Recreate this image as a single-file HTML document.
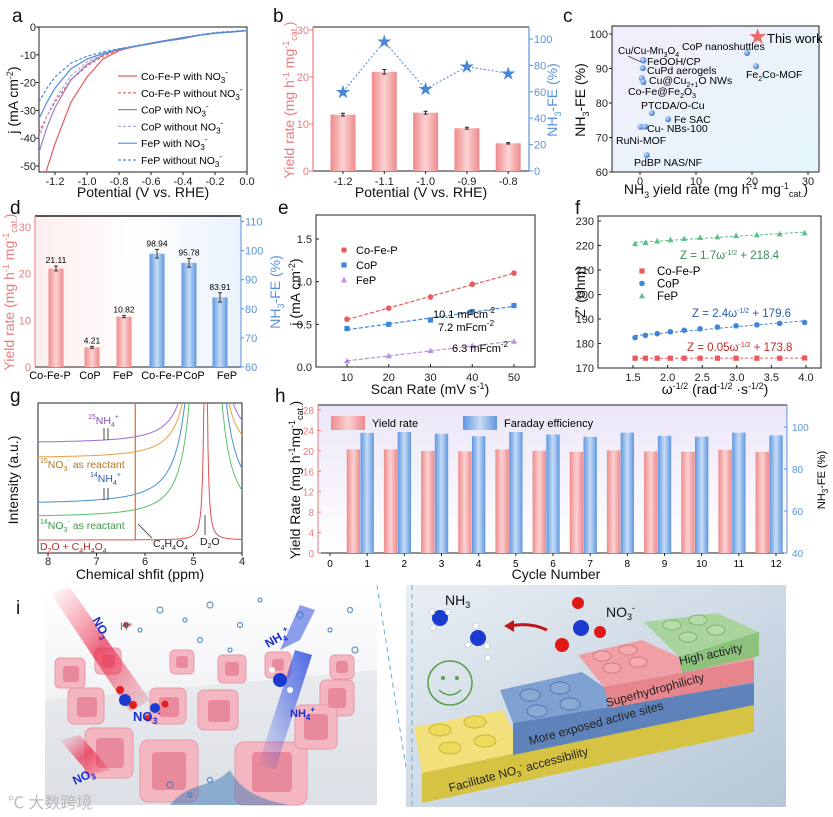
<!DOCTYPE html>
<html><head><meta charset="utf-8">
<style>
html,body{margin:0;padding:0;background:#fff;}
svg{display:block;font-family:"Liberation Sans","Noto Sans CJK SC",sans-serif;}
.tk{font-size:11px;fill:#222;}
.tt{font-size:14px;fill:#111;}
.pl{font-size:19px;fill:#111;}
</style></head>
<body>
<svg id="fig" width="833" height="817" viewBox="0 0 833 817" xmlns="http://www.w3.org/2000/svg">
<defs>
 <linearGradient id="gRed" x1="0" x2="1" y1="0" y2="0"><stop offset="0" stop-color="#ee8a8c"/><stop offset="0.5" stop-color="#fbd3d3"/><stop offset="1" stop-color="#ee8a8c"/></linearGradient>
 <linearGradient id="gBlue" x1="0" x2="1" y1="0" y2="0"><stop offset="0" stop-color="#5e97e0"/><stop offset="0.5" stop-color="#c7dcf6"/><stop offset="1" stop-color="#5e97e0"/></linearGradient>
 <linearGradient id="gC" x1="0" x2="1" y1="0" y2="1"><stop offset="0" stop-color="#f2edfa"/><stop offset="1" stop-color="#e4f7fb"/></linearGradient>
 <linearGradient id="gD" x1="0" x2="1" y1="0" y2="0"><stop offset="0" stop-color="#fdeeee"/><stop offset="0.5" stop-color="#ffffff"/><stop offset="1" stop-color="#eaf2fd"/></linearGradient>
 <linearGradient id="gH" x1="0" x2="0" y1="0" y2="1"><stop offset="0" stop-color="#ece6f8"/><stop offset="1" stop-color="#ffffff"/></linearGradient>
 <radialGradient id="gBall" cx="0.35" cy="0.35" r="0.7"><stop offset="0" stop-color="#cfe2ff"/><stop offset="1" stop-color="#2f6fd0"/></radialGradient>
 <linearGradient id="gLeft" x1="0" x2="0" y1="0" y2="1"><stop offset="0" stop-color="#ffffff"/><stop offset="0.45" stop-color="#f3f4f6"/><stop offset="1" stop-color="#d7dbe1"/></linearGradient>
 <linearGradient id="gRight" x1="0" x2="1" y1="0" y2="1"><stop offset="0" stop-color="#e9eef3"/><stop offset="0.6" stop-color="#c9d6e3"/><stop offset="1" stop-color="#b7c7d8"/></linearGradient>
 <linearGradient id="gBeamR" x1="0" x2="1" y1="0" y2="1"><stop offset="0" stop-color="#ff5070" stop-opacity="0"/><stop offset="0.5" stop-color="#e8294a" stop-opacity="0.7"/><stop offset="1" stop-color="#e8294a" stop-opacity="0.1"/></linearGradient>
 <linearGradient id="gBeamB" x1="1" x2="0" y1="0" y2="1"><stop offset="0" stop-color="#2040e0" stop-opacity="0.8"/><stop offset="1" stop-color="#2040e0" stop-opacity="0"/></linearGradient>
 <clipPath id="clipA"><rect x="39" y="27" width="208" height="145"/></clipPath>
 <clipPath id="clipG"><rect x="38" y="403" width="204" height="150"/></clipPath>
</defs>

<text class="pl" x="12" y="22">a</text>
<text class="pl" x="273" y="22">b</text>
<text class="pl" x="563" y="22">c</text>
<text class="pl" x="10" y="214">d</text>
<text class="pl" x="278" y="214">e</text>
<text class="pl" x="575" y="214">f</text>
<text class="pl" x="10" y="402">g</text>
<text class="pl" x="275" y="402">h</text>
<text class="pl" x="16" y="614">i</text>

<text class="tt" x="143" y="197" text-anchor="middle">Potential (V vs. RHE)</text>
<text class="tt" transform="translate(18,100) rotate(-90)" text-anchor="middle">j (mA cm<tspan dy="-5" font-size="9">-2</tspan><tspan dy="5">)</tspan></text>
<text class="tt" x="421" y="197" text-anchor="middle">Potential (V vs. RHE)</text>
<text class="tt" transform="translate(294,100) rotate(-90)" text-anchor="middle" style="fill:#ea7b7d">Yield rate (mg h<tspan dy="-5" font-size="9">-1</tspan><tspan dy="5"> mg</tspan><tspan dy="-5" font-size="9">-1</tspan><tspan dy="8" font-size="9">cat.</tspan><tspan dy="-3">)</tspan></text>
<text class="tt" transform="translate(557,100) rotate(-90)" text-anchor="middle" style="fill:#5b93d8">NH<tspan dy="4" font-size="9">3</tspan><tspan dy="-4">-FE (%)</tspan></text>
<text class="tt" x="716" y="194" text-anchor="middle">NH<tspan dy="4" font-size="9">3</tspan><tspan dy="-4"> yield rate (mg h</tspan><tspan dy="-5" font-size="9">-1</tspan><tspan dy="5"> mg</tspan><tspan dy="-5" font-size="9">-1</tspan><tspan dy="8" font-size="9">cat.</tspan><tspan dy="-3">)</tspan></text>
<text class="tt" transform="translate(585,100) rotate(-90)" text-anchor="middle">NH<tspan dy="4" font-size="9">3</tspan><tspan dy="-4">-FE (%)</tspan></text>
<text class="tt" transform="translate(14,292) rotate(-90)" text-anchor="middle" style="fill:#ea7b7d">Yield rate (mg h<tspan dy="-5" font-size="9">-1</tspan><tspan dy="5"> mg</tspan><tspan dy="-5" font-size="9">-1</tspan><tspan dy="8" font-size="9">cat.</tspan><tspan dy="-3">)</tspan></text>
<text class="tt" transform="translate(280,292) rotate(-90)" text-anchor="middle" style="fill:#5b93d8">NH<tspan dy="4" font-size="9">3</tspan><tspan dy="-4">-FE (%)</tspan></text>
<text class="tt" x="430" y="394" text-anchor="middle">Scan Rate (mV s<tspan dy="-5" font-size="9">-1</tspan><tspan dy="5">)</tspan></text>
<text class="tt" transform="translate(300,292) rotate(-90)" text-anchor="middle">j (mA cm<tspan dy="-5" font-size="9">-2</tspan><tspan dy="5">)</tspan></text>
<text class="tt" x="715" y="394" text-anchor="middle">ω<tspan dy="-5" font-size="9">-1/2</tspan><tspan dy="5"> (rad</tspan><tspan dy="-5" font-size="9">-1/2</tspan><tspan dy="5"> ·s</tspan><tspan dy="-5" font-size="9">-1/2</tspan><tspan dy="5">)</tspan></text>
<text class="tt" transform="translate(585,292) rotate(-90)" text-anchor="middle">Z' (ohm)</text>
<text class="tt" x="140" y="579" text-anchor="middle">Chemical shfit (ppm)</text>
<text class="tt" transform="translate(18,480) rotate(-90)" text-anchor="middle">Intensity (a.u.)</text>
<text class="tt" x="556" y="579" text-anchor="middle">Cycle Number</text>
<text class="tt" transform="translate(300,480) rotate(-90)" text-anchor="middle">Yield Rate (mg h<tspan dy="-5" font-size="9">-1</tspan><tspan dy="5">mg</tspan><tspan dy="-5" font-size="9">-1</tspan><tspan dy="8" font-size="9">cat.</tspan><tspan dy="-3">)</tspan></text>
<text transform="translate(825,480) rotate(-90)" text-anchor="middle" font-size="11">NH<tspan dy="3" font-size="8">3</tspan><tspan dy="-3">-FE (%)</tspan></text>

<g>
 <rect x="45" y="585" width="332" height="220" fill="url(#gLeft)"/>
 <polygon points="45,700 377,670 377,805 45,805" fill="#dfe2e7" opacity="0.6"/>
 <g fill="#f4b6c0" stroke="#e79aa8" stroke-width="1">
  <rect x="55" y="658" width="30" height="30" rx="5"/><rect x="95" y="648" width="26" height="26" rx="5"/>
  <rect x="170" y="650" width="24" height="24" rx="5"/><rect x="218" y="655" width="28" height="28" rx="5"/>
  <rect x="265" y="652" width="26" height="26" rx="5"/><rect x="330" y="655" width="24" height="24" rx="5"/>
  <rect x="68" y="688" width="36" height="36" rx="6"/><rect x="150" y="688" width="36" height="36" rx="6"/>
  <rect x="198" y="690" width="40" height="40" rx="6"/><rect x="320" y="680" width="34" height="36" rx="6"/>
  <rect x="85" y="728" width="48" height="50" rx="7"/><rect x="140" y="740" width="58" height="62" rx="8"/>
  <rect x="235" y="742" width="72" height="63" rx="9"/><rect x="295" y="705" width="42" height="44" rx="6"/>
 </g>
 <g fill="#e88a9b">
  <rect x="63" y="666" width="16" height="16" rx="3"/><rect x="102" y="655" width="13" height="13" rx="3"/>
  <rect x="176" y="656" width="12" height="12" rx="3"/><rect x="225" y="662" width="14" height="14" rx="3"/>
  <rect x="272" y="659" width="12" height="12" rx="3"/><rect x="336" y="661" width="12" height="12" rx="3"/>
  <rect x="77" y="697" width="20" height="20" rx="3"/><rect x="159" y="697" width="20" height="20" rx="3"/>
  <rect x="208" y="700" width="22" height="22" rx="3"/><rect x="328" y="688" width="18" height="20" rx="3"/>
  <rect x="96" y="738" width="28" height="30" rx="4"/><rect x="152" y="752" width="34" height="38" rx="4"/>
  <rect x="252" y="752" width="40" height="40" rx="4"/><rect x="304" y="714" width="24" height="26" rx="4"/>
 </g>
 <polygon points="50,592 70,588 150,700 130,712" fill="url(#gBeamR)"/>
 <polygon points="60,740 80,735 110,770 90,775" fill="url(#gBeamR)"/>
 <polygon points="295,650 312,655 275,770 258,765" fill="url(#gBeamB)"/>
 <polygon points="280,650 300,640 315,610 300,605" fill="#2040e0" opacity="0.5"/>
 <g fill="none" stroke="#3a78b8" stroke-width="1.2" opacity="0.8">
  <circle cx="160" cy="610" r="3"/><circle cx="185" cy="620" r="2"/><circle cx="210" cy="605" r="3"/><circle cx="240" cy="625" r="2.5"/>
  <circle cx="260" cy="600" r="2"/><circle cx="300" cy="615" r="3"/><circle cx="330" cy="630" r="2"/><circle cx="350" cy="610" r="2.5"/>
  <circle cx="140" cy="630" r="2"/><circle cx="200" cy="640" r="2.5"/><circle cx="230" cy="650" r="2"/><circle cx="355" cy="650" r="3"/>
  <circle cx="170" cy="785" r="3"/><circle cx="190" cy="795" r="2"/><circle cx="210" cy="780" r="2.5"/>
 </g>
 <path d="M170,805 C190,780 210,790 230,770 C240,790 260,800 290,805 Z" fill="#3a78b8" opacity="0.5"/>
 <circle cx="126" cy="625" r="3" fill="#d02020"/><circle cx="125" cy="700" r="6" fill="#1a3ad0"/><circle cx="120" cy="690" r="4" fill="#e02020"/><circle cx="133" cy="705" r="4" fill="#e02020"/>
 <circle cx="155" cy="708" r="5" fill="#1a3ad0"/><circle cx="148" cy="718" r="3.5" fill="#e02020"/><circle cx="165" cy="704" r="3.5" fill="#e02020"/>
 <circle cx="280" cy="680" r="7" fill="#1a3ad0"/><circle cx="272" cy="670" r="3" fill="#fff"/><circle cx="290" cy="690" r="3" fill="#fff"/>
 <text x="92" y="620" font-size="12" font-weight="bold" fill="#1a2fd0" transform="rotate(60 92 620)">NO<tspan font-size="8" dy="3">3</tspan></text>
 <text x="120" y="630" font-size="11" fill="#777">H*</text>
 <text x="133" y="721" font-size="13" font-weight="bold" fill="#1a2fd0">NO<tspan font-size="9" dy="3">3</tspan><tspan font-size="9" dy="-8">-</tspan></text>
 <text x="75" y="785" font-size="12" font-weight="bold" fill="#1a2fd0" transform="rotate(-25 75 785)">NO<tspan font-size="8" dy="3">3</tspan></text>
 <text x="268" y="648" font-size="12" font-weight="bold" fill="#1a2fd0" transform="rotate(-30 268 648)">NH<tspan font-size="8" dy="3">4</tspan><tspan font-size="8" dy="-8">+</tspan></text>
 <text x="290" y="717" font-size="11" font-weight="bold" fill="#1a2fd0">NH<tspan font-size="8" dy="3">4</tspan><tspan font-size="8" dy="-8">+</tspan></text>
 <text x="8" y="808" font-size="16" fill="#bbb">℃ 大数跨境</text>
</g>
<line x1="377" y1="585" x2="412" y2="805" stroke="#6aaed8" stroke-width="1" stroke-dasharray="5,4"/>

<g>
 <rect x="406" y="585" width="380" height="222" fill="url(#gRight)"/>
 <line x1="412" y1="585" x2="412" y2="807" stroke="#6aaed8" stroke-dasharray="5,4"/>
 <polygon points="414,727 503,710 520,745 754,690 754,703 422,773" fill="#f2e07a"/>
 <polygon points="422,773 754,703 754,732 422,803" fill="#d6c243"/>
 <g fill="#eedb5e" stroke="#cbb63a"><ellipse cx="440" cy="730" rx="11" ry="6"/><ellipse cx="475" cy="722" rx="11" ry="6"/><ellipse cx="450" cy="748" rx="11" ry="6"/><ellipse cx="485" cy="741" rx="11" ry="6"/></g>
 <polygon points="500,690 582,672 604,687 754,650 754,683 513,723" fill="#7ea1d2"/>
 <polygon points="513,723 754,683 754,705 513,755" fill="#5e83bb"/>
 <g fill="#8aaad6" stroke="#5777a8"><ellipse cx="530" cy="695" rx="10" ry="6"/><ellipse cx="560" cy="688" rx="10" ry="6"/><ellipse cx="537" cy="711" rx="10" ry="6"/><ellipse cx="570" cy="704" rx="10" ry="6"/></g>
 <polygon points="578,655 642,640 679,657 754,640 754,660 604,687" fill="#f0a0a4"/>
 <polygon points="604,687 754,660 754,682 610,708" fill="#e6868c"/>
 <g fill="#f4aaaf" stroke="#d07a80"><ellipse cx="602" cy="656" rx="9" ry="5"/><ellipse cx="628" cy="650" rx="9" ry="5"/><ellipse cx="612" cy="668" rx="9" ry="5"/><ellipse cx="638" cy="662" rx="9" ry="5"/></g>
 <polygon points="644,622 717,613 759,632 679,657" fill="#a9d49c"/>
 <polygon points="679,657 759,632 759,656 682,673" fill="#8cc27c"/>
 <g fill="#b5dca8" stroke="#7fb36f"><ellipse cx="672" cy="625" rx="9" ry="5"/><ellipse cx="698" cy="620" rx="9" ry="5"/><ellipse cx="688" cy="637" rx="9" ry="5"/><ellipse cx="716" cy="630" rx="9" ry="5"/></g>
 <text x="450" y="792" font-size="12" fill="#222" transform="rotate(-15 450 792)">Facilitate NO<tspan font-size="8" dy="3">3</tspan><tspan font-size="8" dy="-8">-</tspan><tspan dy="5"> accessibility</tspan></text>
 <text x="530" y="745" font-size="12" fill="#222" transform="rotate(-15 530 745)">More exposed active sites</text>
 <text x="607" y="707" font-size="12" fill="#222" transform="rotate(-15 607 707)">Superhydrophilicity</text>
 <text x="680" y="665" font-size="12" fill="#222" transform="rotate(-12 680 665)">High activity</text>
 <circle cx="450" cy="683" r="22" fill="none" stroke="#5aa04a" stroke-width="1.5"/>
 <circle cx="443" cy="678" r="2" fill="#5aa04a"/><circle cx="457" cy="678" r="2" fill="#5aa04a"/>
 <path d="M439,690 Q450,700 461,690" fill="none" stroke="#5aa04a" stroke-width="1.5"/>
 <circle cx="440" cy="618" r="8" fill="#1a3ad0"/><circle cx="478" cy="638" r="8" fill="#1a3ad0"/>
 <g fill="#fff" stroke="#aaa" stroke-width="0.5"><circle cx="432" cy="612" r="3"/><circle cx="448" cy="612" r="3"/><circle cx="433" cy="628" r="3"/><circle cx="468" cy="645" r="3"/><circle cx="487" cy="646" r="3"/><circle cx="476" cy="626" r="3"/><circle cx="488" cy="658" r="3"/></g>
 <text x="445" y="605" font-size="14" fill="#111">NH<tspan font-size="9" dy="3">3</tspan></text>
 <path d="M547,630 Q530,622 510,626" fill="none" stroke="#c01818" stroke-width="3"/>
 <polygon points="504,626 514,620 514,632" fill="#c01818"/>
 <circle cx="581" cy="628" r="8" fill="#1a3ad0"/><circle cx="578" cy="603" r="6" fill="#e01818"/><circle cx="600" cy="632" r="6" fill="#e01818"/><circle cx="562" cy="645" r="7" fill="#e01818"/>
 <text x="606" y="617" font-size="14" fill="#111">NO<tspan font-size="9" dy="3">3</tspan><tspan font-size="9" dy="-9">-</tspan></text>
</g>
</svg>

<script>
const NS='http://www.w3.org/2000/svg';
const svg=document.getElementById('fig');
function mk(tag,attrs,parent){const e=document.createElementNS(NS,tag);for(const k in attrs)e.setAttribute(k,attrs[k]);(parent||svg).appendChild(e);return e;}
function txt(x,y,s,attrs,parent){const e=mk('text',Object.assign({x:x,y:y},attrs||{}),parent);e.innerHTML=s;return e;}
function lin(d0,d1,r0,r1){return function(v){return r0+(v-d0)*(r1-r0)/(d1-d0);};}
function marker(x,y,type,color){
 if(type==='circle')return mk('circle',{cx:x,cy:y,r:2.8,fill:color});
 if(type==='square')return mk('rect',{x:x-2.6,y:y-2.6,width:5.2,height:5.2,fill:color});
 return mk('polygon',{points:(x)+','+(y-3.2)+' '+(x-3)+','+(y+2.4)+' '+(x+3)+','+(y+2.4),fill:color});
}
function fit(xs,ys){const n=xs.length;let sx=0,sy=0,sxx=0,sxy=0;for(let i=0;i<n;i++){sx+=xs[i];sy+=ys[i];sxx+=xs[i]*xs[i];sxy+=xs[i]*ys[i];}const m=(n*sxy-sx*sy)/(n*sxx-sx*sx);return [m,(sy-m*sx)/n];}

// ===== Panel a data =====
const aPot=[-1.3,-1.25,-1.2,-1.1,-1.0,-0.9,-0.8,-0.7,-0.6,-0.5,-0.4,-0.3,-0.2,-0.1,0];
const aCoFePWith=[-62,-51,-42,-27,-18,-11.5,-8.5,-7,-5.8,-4.8,-3.8,-3,-2.2,-1.8,-1.3];
const aCoFePWithout=[-38,-32,-27,-19,-14,-10.5,-8.2,-7,-5.8,-4.8,-3.8,-3,-2.2,-1.8,-1.3];
const aCoPWith=[-45,-36,-29,-19,-13.5,-10,-8,-7,-6,-5,-4,-3,-2.2,-1.8,-1.3];
const aCoPWithout=[-40,-32,-26,-17.5,-12.5,-9.8,-8,-7,-6,-5,-4,-3,-2.2,-1.8,-1.3];
const aFePWith=[-33,-27,-22,-15,-11.5,-9.5,-8,-7,-6,-5,-4.2,-3,-2.2,-1.8,-1.3];
const aFePWithout=[-27,-22,-18,-13,-10.5,-9,-7.8,-6.8,-5.8,-4.8,-3.8,-2.8,-2,-1.6,-1.2];
const aXTicks=[-1.2,-1.0,-0.8,-0.6,-0.4,-0.2,0.0];
const aYTicks=[0,-10,-20,-30,-40,-50];
(function(){
 const X=lin(-1.3,0,39,247),Y=lin(0,-50,27,166);
 const frame=mk('rect',{x:39,y:27,width:208,height:145,fill:'none',stroke:'#222','stroke-width':1});
 
 aXTicks.forEach(function(v){const t=txt(X(v),185,v.toFixed(1),{class:'tk','text-anchor':'middle'});
  
  mk('line',{x1:X(v),x2:X(v),y1:172,y2:175,stroke:'#222'});});
 aYTicks.forEach(function(v){const t=txt(36,Y(v)+4,String(v),{class:'tk','text-anchor':'end'});
  
  mk('line',{x1:36,x2:39,y1:Y(v),y2:Y(v),stroke:'#222'});});
 const series=[[aCoFePWith,'#e85a5e',''],[aCoFePWithout,'#e85a5e','3,2'],[aCoPWith,'#9a80c2',''],[aCoPWithout,'#b9a4d6','3,2'],[aFePWith,'#4d8ddc',''],[aFePWithout,'#4d8ddc','3,2']];
 const g=mk('g',{'clip-path':'url(#clipA)'});
 series.forEach(function(s){
  const d=aPot.map(function(p,i){return (i?'L':'M')+X(p).toFixed(1)+','+Y(s[0][i]).toFixed(1);}).join('');
  const l=mk('path',{d:d,fill:'none',stroke:s[1],'stroke-width':1.2,'stroke-dasharray':s[2]},g);
  
 });
 const sub='NO<tspan font-size="8" dy="3">3</tspan><tspan font-size="8" dy="-8">-</tspan>';
 const labels=['Co-Fe-P with '+sub,'Co-Fe-P without '+sub,'CoP with '+sub,'CoP without '+sub,'FeP with '+sub,'FeP without '+sub];
 labels.forEach(function(L,i){const y=76+i*16.8;
  const ln=mk('line',{x1:118,x2:137,y1:y,y2:y,stroke:series[i][1],'stroke-width':1.2,'stroke-dasharray':series[i][2]});
  
  const t=txt(141,y+4,L,{'font-size':10.5});
  });
})();

// ===== Panel b data =====
const bPot=['-1.2','-1.1','-1.0','-0.9','-0.8'];
const bYield=[12.0,21.1,12.4,9.1,5.9];
const bYieldErr=[0.3,0.5,0.3,0.2,0.15];
const bFE=[60,98,62,79,74];
const bYTicks=[0,10,20,30];
const bY2Ticks=[0,20,40,60,80,100];
(function(){
 const X=function(i){return 343+i*41.3;},Y=lin(0,30,171,30),Y2=lin(0,100,171,39);
 const ax=mk('path',{d:'M313,27 H529 M313,171 H529',fill:'none',stroke:'#222'});
 
 mk('line',{x1:313,x2:313,y1:27,y2:171,stroke:'#ea7b7d','stroke-width':1.2});
 mk('line',{x1:529,x2:529,y1:27,y2:171,stroke:'#5b93d8','stroke-width':1.2});
 bYTicks.forEach(function(v){const t=txt(309,Y(v)+4,String(v),{class:'tk','text-anchor':'end',style:'fill:#ea7b7d'});
  
  mk('line',{x1:309,x2:313,y1:Y(v),y2:Y(v),stroke:'#ea7b7d'});});
 bY2Ticks.forEach(function(v){const t=txt(534,Y2(v)+4,String(v),{class:'tk',style:'fill:#5b93d8'});
  
  mk('line',{x1:529,x2:533,y1:Y2(v),y2:Y2(v),stroke:'#5b93d8'});});
 bPot.forEach(function(p,i){const t=txt(X(i),185,p,{class:'tk','text-anchor':'middle'});
  
  mk('line',{x1:X(i),x2:X(i),y1:171,y2:174,stroke:'#222'});
  const b=mk('rect',{x:X(i)-12.5,y:Y(bYield[i]),width:25,height:171-Y(bYield[i]),fill:'url(#gRed)'});
  
  const e=mk('path',{d:'M'+X(i)+','+Y(bYield[i]+bYieldErr[i])+'V'+Y(bYield[i]-bYieldErr[i])+'M'+(X(i)-2)+','+Y(bYield[i]+bYieldErr[i])+'h4M'+(X(i)-2)+','+Y(bYield[i]-bYieldErr[i])+'h4',stroke:'#222',fill:'none'});
  });
 const d=bFE.map(function(v,i){return (i?'L':'M')+X(i)+','+Y2(v);}).join('');
 const l=mk('path',{d:d,fill:'none',stroke:'#4a86d8','stroke-dasharray':'2,2'});
 
 bFE.forEach(function(v,i){const s=txt(X(i),Y2(v)+5,'★',{'font-size':15,'text-anchor':'middle',fill:'#4a86d8'});
  });
})();

// ===== Panel c data =====
const cYield=[0.55,0.6,0.5,0.3,0.6,2.1,5.0,0.1,0.9,1.2,19.1,20.7];
const cFE=[92.5,92.3,90.1,87.2,86.1,77.1,75.3,73.1,73.1,64.9,94.5,90.7];
const cThisYield=21.0, cThisFE=99.1;
const cXTicks=[0,10,20,30];
const cYTicks=[60,70,80,90,100];
(function(){
 const X=lin(0,10,640,696),Y=lin(60,100,172,34);
 const bg=mk('rect',{x:612,y:26,width:207,height:146,fill:'url(#gC)',stroke:'#222'});
 
 cXTicks.forEach(function(v){const t=txt(X(v),185,String(v),{class:'tk','text-anchor':'middle'});
  
  mk('line',{x1:X(v),x2:X(v),y1:172,y2:175,stroke:'#222'});});
 cYTicks.forEach(function(v){const t=txt(608,Y(v)+4,String(v),{class:'tk','text-anchor':'end'});
  
  mk('line',{x1:609,x2:612,y1:Y(v),y2:Y(v),stroke:'#222'});});
 cYield.forEach(function(v,i){const p=mk('circle',{cx:X(v),cy:Y(cFE[i]),r:3,fill:'url(#gBall)'});
  });
 const st=txt(X(cThisYield),Y(cThisFE)+6,'★',{'font-size':18,'text-anchor':'middle',fill:'#ef6b6b'});
 
 mk('line',{x1:628,y1:56,x2:641,y2:62,stroke:'#333','stroke-width':0.8});
 const labs=[[767,43,'This work',13],[682,50,'CoP nanoshuttles',10.5],[618,54,'Cu/Cu-Mn<tspan font-size="7" dy="3">3</tspan><tspan dy="-3">O</tspan><tspan font-size="7" dy="3">4</tspan>',10],[647,65,'FeOOH/CP',10.5],[647,74,'CuPd aerogels',10.5],[649,84,'Cu@Cu<tspan font-size="7" dy="3">2+1</tspan><tspan dy="-3">O NWs</tspan>',10.5],[628,95,'Co-Fe@Fe<tspan font-size="7" dy="3">2</tspan><tspan dy="-3">O</tspan><tspan font-size="7" dy="3">3</tspan>',10.5],[641,109,'PTCDA/O-Cu',10.5],[674,123,'Fe SAC',10.5],[647,132,'Cu- NBs-100',10.5],[616,144,'RuNi-MOF',10.5],[634,166,'PdBP NAS/NF',10.5],[746,78,'Fe<tspan font-size="7" dy="3">2</tspan><tspan dy="-3">Co-MOF</tspan>',10.5]];
 labs.forEach(function(L){const t=txt(L[0],L[1],L[2],{'font-size':L[3]});
  });
})();

// ===== Panel d data =====
const dCats=['Co-Fe-P','CoP','FeP','Co-Fe-P','CoP','FeP'];
const dYield=[21.11,4.21,10.82];
const dYieldErr=[0.5,0.2,0.25];
const dFE=[98.94,95.78,83.91];
const dFEErr=[1.5,1.5,1.6];
const dYTicks=[0,10,20,30];
const dY2Ticks=[60,70,80,90,100,110];
(function(){
 const Y=lin(0,30,367,227),Y2=lin(60,110,367,221.5);
 const cx=[56,92,124,157,189,220];
 const lx=[50,90,123,162,194,227];
 const bg=mk('rect',{x:35,y:216,width:206,height:151,fill:'url(#gD)'});
 
 mk('line',{x1:35,x2:241,y1:216,y2:216,stroke:'#222','stroke-width':1.5});
 mk('line',{x1:35,x2:241,y1:367,y2:367,stroke:'#222'});
 mk('line',{x1:35,x2:35,y1:216,y2:367,stroke:'#ea7b7d'});
 mk('line',{x1:241,x2:241,y1:216,y2:367,stroke:'#5b93d8'});
 dYTicks.forEach(function(v){const t=txt(31,Y(v)+4,String(v),{class:'tk','text-anchor':'end',style:'fill:#ea7b7d'});
  });
 dY2Ticks.forEach(function(v){const t=txt(245,Y2(v)+4,String(v),{class:'tk',style:'fill:#5b93d8'});
  
  mk('line',{x1:241,x2:244,y1:Y2(v),y2:Y2(v),stroke:'#5b93d8'});});
 dCats.forEach(function(c,i){const t=txt(lx[i],379,c,{'font-size':11,'text-anchor':'middle'});
  });
 dYield.forEach(function(v,i){
  const b=mk('rect',{x:cx[i]-7.5,y:Y(v),width:15,height:367-Y(v),fill:'url(#gRed)'});
  
  mk('path',{d:'M'+cx[i]+','+Y(v+dYieldErr[i])+'V'+Y(v-dYieldErr[i])+'M'+(cx[i]-2)+','+Y(v+dYieldErr[i])+'h4M'+(cx[i]-2)+','+Y(v-dYieldErr[i])+'h4',stroke:'#333'});
  const t=txt(cx[i],Y(v+dYieldErr[i])-3,v.toFixed(2),{'font-size':8.5,'text-anchor':'middle'});
  });
 dFE.forEach(function(v,i){const x=cx[i+3];
  const b=mk('rect',{x:x-7.5,y:Y2(v),width:15,height:367-Y2(v),fill:'url(#gBlue)'});
  
  mk('path',{d:'M'+x+','+Y2(v+dFEErr[i])+'V'+Y2(v-dFEErr[i])+'M'+(x-2)+','+Y2(v+dFEErr[i])+'h4M'+(x-2)+','+Y2(v-dFEErr[i])+'h4',stroke:'#333'});
  const t=txt(x,Y2(v+dFEErr[i])-3,v.toFixed(2),{'font-size':8.5,'text-anchor':'middle'});
  });
})();

// ===== Panel e data =====
const eScan=[10,20,30,40,50];
const eCoFeP=[0.56,0.69,0.82,0.97,1.10];
const eCoP=[0.45,0.50,0.55,0.65,0.72];
const eFeP=[0.07,0.13,0.19,0.25,0.30];
const eXTicks=[10,20,30,40,50];
const eYTicks=[0.0,0.5,1.0,1.5];
(function(){
 const X=lin(10,50,347,514),Y=lin(0,1.5,367,239);
 const fr=mk('rect',{x:316,y:215,width:219,height:152,fill:'none',stroke:'#222'});
 
 eXTicks.forEach(function(v){const t=txt(X(v),381,String(v),{class:'tk','text-anchor':'middle'});
  
  mk('line',{x1:X(v),x2:X(v),y1:367,y2:364,stroke:'#222'});});
 eYTicks.forEach(function(v){const t=txt(312,Y(v)+4,v.toFixed(1),{class:'tk','text-anchor':'end'});
  
  mk('line',{x1:316,x2:319,y1:Y(v),y2:Y(v),stroke:'#222'});});
 const S=[[eCoFeP,'#e85a5e','circle','Co-Fe-P'],[eCoP,'#3f86d8','square','CoP'],[eFeP,'#b88fe0','tri','FeP']];
 S.forEach(function(s,k){
  const f=fit(eScan,s[0]);
  const l=mk('line',{x1:X(10),y1:Y(f[0]*10+f[1]),x2:X(50),y2:Y(f[0]*50+f[1]),stroke:s[1],'stroke-dasharray':'4,2','stroke-width':1.2});
  
  eScan.forEach(function(x,i){const m=marker(X(x),Y(s[0][i]),s[2],s[1]);
   });
  const lm=marker(344,250+k*15,s[2],s[1]);
  
  const lt=txt(356,254+k*15,s[3],{'font-size':11});
  
 });
 [['10.1 mFcm<tspan font-size="8" dy="-5">-2</tspan>',433,318],['7.2 mFcm<tspan font-size="8" dy="-5">-2</tspan>',438,331],['6.3  mFcm<tspan font-size="8" dy="-5">-2</tspan>',452,352]].forEach(function(a){
  const t=txt(a[1],a[2],a[0],{'font-size':11});});
})();

// ===== Panel f data =====
const fOmega=[1.53,1.68,1.85,2.04,2.24,2.47,2.72,2.99,3.29,3.62,3.98];
const fFeP=[220.7,221.2,221.8,222.3,222.8,223.2,223.5,224.0,224.3,224.7,225.1];
const fCoP=[182.4,183.3,184.0,184.8,185.4,186.0,186.7,187.2,187.6,188.2,188.6];
const fCoFeP=[174.0,174.0,174.0,174.0,174.0,174.0,174.0,174.0,174.0,174.0,174.1];
const fXTicks=[1.5,2.0,2.5,3.0,3.5,4.0];
const fYTicks=[170,180,190,200,210,220,230];
(function(){
 const X=lin(1.5,4.0,633,806),Y=lin(170,230,368,221);
 const fr=mk('rect',{x:598,y:216,width:223,height:152,fill:'none',stroke:'#222'});
 
 fXTicks.forEach(function(v){const t=txt(X(v),381,v.toFixed(1),{class:'tk','text-anchor':'middle'});
  
  mk('line',{x1:X(v),x2:X(v),y1:368,y2:365,stroke:'#222'});});
 fYTicks.forEach(function(v){const t=txt(594,Y(v)+4,String(v),{class:'tk','text-anchor':'end'});
  
  mk('line',{x1:598,x2:601,y1:Y(v),y2:Y(v),stroke:'#222'});});
 const S=[[fCoFeP,'#e85a5e','square','Co-Fe-P'],[fCoP,'#3f86d8','circle','CoP'],[fFeP,'#5bbf8a','tri','FeP']];
 S.forEach(function(s,k){
  const f=fit(fOmega,s[0]);
  const l=mk('line',{x1:X(1.53),y1:Y(f[0]*1.53+f[1]),x2:X(3.98),y2:Y(f[0]*3.98+f[1]),stroke:s[1],'stroke-dasharray':'3,2'});
  
  fOmega.forEach(function(x,i){const m=marker(X(x),Y(s[0][i]),s[2],s[1]);
   });
  const lm=marker(642,271+k*12.5,s[2],s[1]);
  
  const lt=txt(657,275+k*12.5,s[3],{'font-size':11.5});
  
 });
 [['Z = 1.7ω<tspan font-size="7" dy="-4">-1/2</tspan><tspan dy="4"> + 218.4</tspan>',680,259,'#3a8a55'],['Z = 2.4ω<tspan font-size="7" dy="-4">-1/2</tspan><tspan dy="4"> + 179.6</tspan>',692,317,'#2a5aa8'],['Z = 0.05ω<tspan font-size="7" dy="-4">-1/2</tspan><tspan dy="4"> + 173.8</tspan>',687,351,'#c02a2a']].forEach(function(a){
  const t=txt(a[1],a[2],a[0],{'font-size':11.5,fill:a[3]});});
})();

// ===== Panel g data =====
const gBase=[443,458,504,517,540];
const gAmp=[1316,1100,924,700,350];
const gWidth=[0.10,0.11,0.15,0.15,0.03];
const gXTicks=[8,7,6,5,4];
(function(){
 const X=lin(8,4,48,242);
 const colors=['#a26ad0','#e8a040','#4a90d0','#5cbf6a','#e05050'];
 const fr=mk('rect',{x:38,y:403,width:204,height:150,fill:'none',stroke:'#222'});
 
 gXTicks.forEach(function(v){const t=txt(X(v),565,String(v),{class:'tk','text-anchor':'middle'});
  
  mk('line',{x1:X(v),x2:X(v),y1:553,y2:556,stroke:'#222'});});
 const g=mk('g',{'clip-path':'url(#clipG)'});
 gBase.forEach(function(b,k){
  let d='';
  for(let p=8.4;p>=3.95;p-=0.01){const dx=p-4.75;const yv=b-gAmp[k]*gWidth[k]*gWidth[k]/(dx*dx+gWidth[k]*gWidth[k]);
   d+=(d?'L':'M')+X(p).toFixed(1)+','+Math.max(yv,395).toFixed(1);}
  const l=mk('path',{d:d,fill:'none',stroke:colors[k],'stroke-width':1},g);
  
 });
 const v=mk('line',{x1:X(6.2),x2:X(6.2),y1:403,y2:540,stroke:'#e07a30','stroke-width':1.3});
 
 const ar=[['<tspan font-size="7" dy="-5">15</tspan><tspan dy="5">NH</tspan><tspan font-size="7" dy="3">4</tspan><tspan font-size="7" dy="-8">+</tspan>',88,424,'#8a4ac0'],['<tspan font-size="7" dy="-5">15</tspan><tspan dy="5">NO</tspan><tspan font-size="7" dy="3">3</tspan><tspan font-size="7" dy="-8">-</tspan><tspan dy="5"> as reactant</tspan>',40,468,'#b07820'],['<tspan font-size="7" dy="-5">14</tspan><tspan dy="5">NH</tspan><tspan font-size="7" dy="3">4</tspan><tspan font-size="7" dy="-8">+</tspan>',90,482,'#2a5aa8'],['<tspan font-size="7" dy="-5">14</tspan><tspan dy="5">NO</tspan><tspan font-size="7" dy="3">3</tspan><tspan font-size="7" dy="-8">-</tspan><tspan dy="5"> as reactant</tspan>',40,529,'#3a9a4a'],['D<tspan font-size="7" dy="3">2</tspan><tspan dy="-3">O + C</tspan><tspan font-size="7" dy="3">4</tspan><tspan dy="-3">H</tspan><tspan font-size="7" dy="3">4</tspan><tspan dy="-3">O</tspan><tspan font-size="7" dy="3">4</tspan>',40,550,'#c02a2a'],['C<tspan font-size="7" dy="3">4</tspan><tspan dy="-3">H</tspan><tspan font-size="7" dy="3">4</tspan><tspan dy="-3">O</tspan><tspan font-size="7" dy="3">4</tspan>',153,547,'#222'],['D<tspan font-size="7" dy="3">2</tspan><tspan dy="-3">O</tspan>',200,545,'#222']];
 ar.forEach(function(a){const t=txt(a[1],a[2],a[0],{'font-size':10.5,fill:a[3]});
  });
 mk('path',{d:'M104,440V428M108,440V428M104,500V488M108,500V488M205,535V515M152,538L138,524',stroke:'#222',fill:'none','stroke-width':0.8});
})();

// ===== Panel h data =====
const hCycles=[1,2,3,4,5,6,7,8,9,10,11,12];
const hYield=[20.3,20.3,20.0,19.9,20.3,20.0,19.8,20.1,19.9,19.8,20.2,19.8];
const hFE=[97.2,97.6,96.8,95.6,97.6,96.4,95.3,97.3,95.8,95.4,97.3,96.0];
const hXTicks=[0,1,2,3,4,5,6,7,8,9,10,11,12];
const hYTicks=[0,4,8,12,16,20,24,28];
const hY2Ticks=[40,60,80,100];
(function(){
 const X=lin(0,12,330,776),Y=lin(0,28,553,410),Y2=lin(40,100,553,427);
 const bg=mk('rect',{x:318,y:405,width:469,height:148,fill:'url(#gH)'});
 
 mk('line',{x1:318,x2:787,y1:405,y2:405,stroke:'#222'});
 mk('line',{x1:318,x2:787,y1:553,y2:553,stroke:'#222'});
 mk('line',{x1:318,x2:318,y1:405,y2:553,stroke:'#ea7b7d'});
 mk('line',{x1:787,x2:787,y1:405,y2:553,stroke:'#5b93d8'});
 hXTicks.forEach(function(v){const t=txt(X(v),567,String(v),{'font-size':10,'text-anchor':'middle'});
  
  mk('line',{x1:X(v),x2:X(v),y1:553,y2:556,stroke:'#222'});});
 hYTicks.forEach(function(v){const t=txt(314,Y(v)+4,String(v),{'font-size':10,'text-anchor':'end',fill:'#ea7b7d'});
  
  mk('line',{x1:318,x2:321,y1:Y(v),y2:Y(v),stroke:'#ea7b7d'});});
 hY2Ticks.forEach(function(v){const t=txt(792,Y2(v)+4,String(v),{'font-size':10,fill:'#5b93d8'});
  
  mk('line',{x1:784,x2:787,y1:Y2(v),y2:Y2(v),stroke:'#5b93d8'});});
 const w=X(0.36)-X(0);
 hCycles.forEach(function(c,i){
  const rb=mk('rect',{x:X(c-0.37)-w/2,y:Y(hYield[i]),width:w,height:553-Y(hYield[i]),fill:'url(#gRed)'});
  
  const bb=mk('rect',{x:X(c)-w/2,y:Y2(hFE[i]),width:w,height:553-Y2(hFE[i]),fill:'url(#gBlue)'});
  
 });
 const l1=mk('rect',{x:331,y:416,width:34,height:14,fill:'url(#gRed)'});
 
 const t1=txt(372,427,'Yield rate',{'font-size':11});
 
 const l2=mk('rect',{x:463,y:416,width:34,height:14,fill:'url(#gBlue)'});
 
 const t2=txt(504,427,'Faraday efficiency',{'font-size':11});
 
})();
</script>
</body></html>
